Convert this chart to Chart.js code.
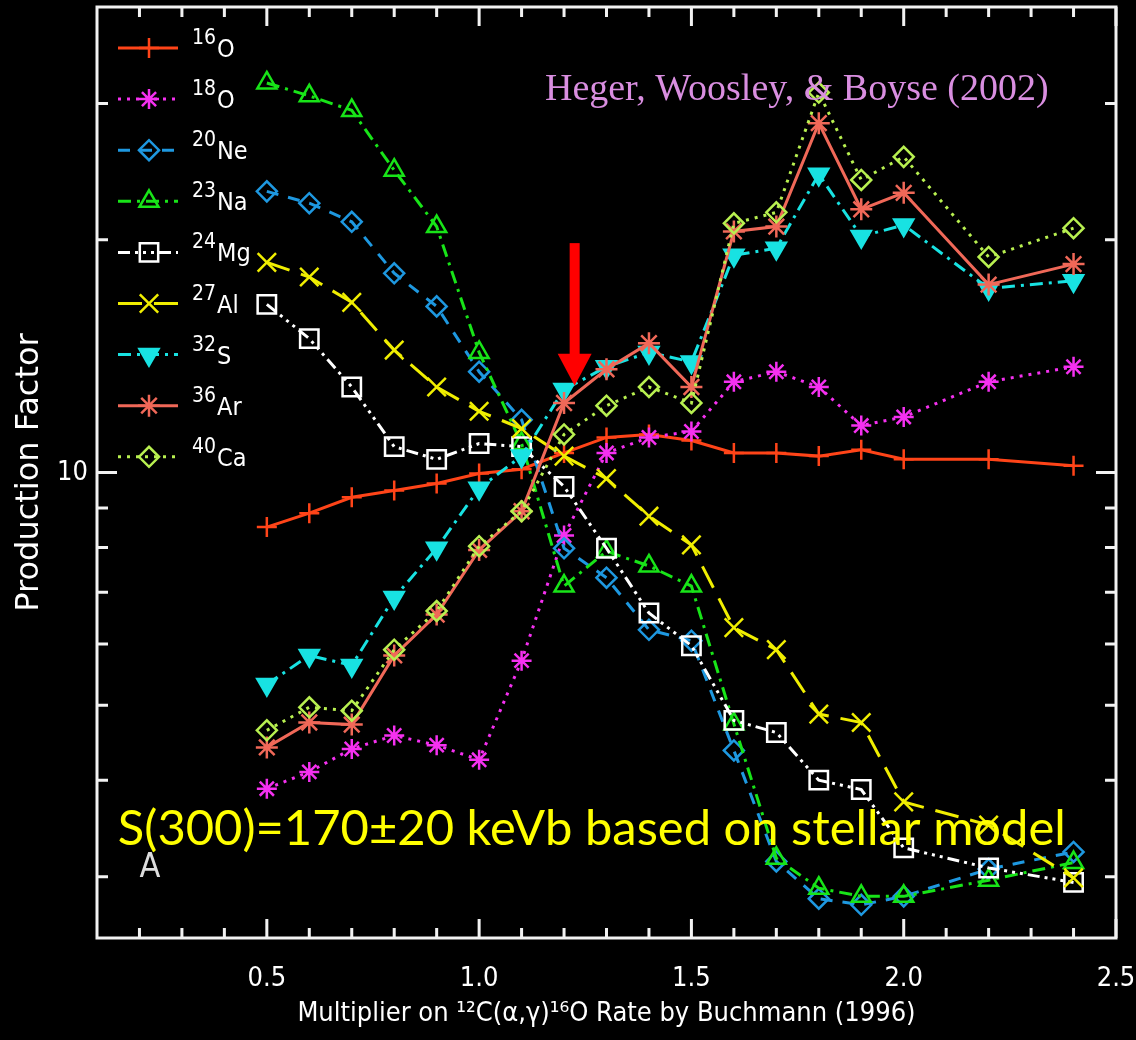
<!DOCTYPE html>
<html>
<head>
<meta charset="utf-8">
<script src="https://cdn.jsdelivr.net/npm/chart.js@4.4.1/dist/chart.umd.min.js"></script>
<style>
  html, body { margin: 0; padding: 0; background: #000; }
  #wrap { width: 1136px; height: 1040px; }
</style>
</head>
<body>
<div id="wrap"><canvas id="pf"></canvas></div>
<script>
// multiplier on the 12C(a,g)16O rate
const multiplier = [0.5, 0.6, 0.7, 0.8, 0.9, 1.0, 1.1, 1.2, 1.3, 1.4, 1.5, 1.6, 1.7, 1.8, 1.9, 2.0, 2.2, 2.4]

// production factors
const o16 = [8.50, 8.86, 9.29, 9.48, 9.68, 9.97, 10.1, 10.6, 11.1, 11.2, 11.0, 10.6, 10.6, 10.5, 10.7, 10.4, 10.4, 10.2]
const o18 = [3.90, 4.10, 4.39, 4.57, 4.44, 4.25, 5.71, 8.29, 10.6, 11.1, 11.3, 13.1, 13.5, 12.9, 11.5, 11.8, 13.1, 13.7]
const ne20 = [23.1, 22.3, 21.1, 18.1, 16.4, 13.5, 11.7, 7.98, 7.31, 6.26, 6.06, 4.37, 3.14, 2.81, 2.76, 2.83, 3.07, 3.23]
const na23 = [31.9, 30.7, 29.4, 24.6, 20.8, 14.3, 10.9, 7.13, 7.91, 7.57, 7.13, 4.73, 3.17, 2.90, 2.83, 2.83, 2.97, 3.13]
const mg24 = [16.5, 14.9, 12.9, 10.8, 10.4, 10.9, 10.8, 9.59, 7.98, 6.58, 5.97, 4.78, 4.61, 4.00, 3.89, 3.27, 3.08, 2.95]
const al27 = [18.7, 17.9, 16.6, 14.4, 12.9, 12.0, 11.4, 10.5, 9.82, 8.78, 8.06, 6.30, 5.90, 4.87, 4.75, 3.75, 3.50, 2.99]
const s32 = [5.32, 5.80, 5.63, 6.89, 7.98, 9.54, 10.5, 12.8, 13.7, 14.3, 13.9, 19.1, 19.5, 24.3, 20.2, 20.9, 17.3, 17.7]
const ar36 = [4.41, 4.75, 4.72, 5.80, 6.55, 7.94, 8.91, 12.3, 13.6, 14.7, 12.9, 20.5, 20.8, 28.3, 21.9, 23.0, 17.5, 18.6]
const ca40 = [4.64, 4.97, 4.92, 5.90, 6.62, 8.03, 8.91, 11.2, 12.2, 12.9, 12.3, 21.0, 21.7, 31.0, 23.9, 25.6, 19.0, 20.7]

const masses = ['16', '18', '20', '23', '24', '27', '32', '36', '40']
const elements = ['O', 'O', 'Ne', 'Na', 'Mg', 'Al', 'S', 'Ar', 'Ca']

const xTickLabels = [0.5, 1.0, 1.5, 2.0, 2.5]
const xMinorTicks = [0.2, 0.3, 0.4, 0.6, 0.7, 0.8, 0.9, 1.1, 1.2, 1.3, 1.4, 1.6, 1.7, 1.8, 1.9, 2.1, 2.2, 2.3, 2.4]
const yTickLabels = [10]
const yMinorTicks = [3, 4, 5, 6, 7, 8, 9, 20, 30]

const citation = 'Heger, Woosley, & Boyse (2002)'
const note = 'S(300)=170\u00b120 keVb based on stellar model'

const narrow = "'Liberation Sans Narrow', 'DejaVu Sans Condensed', 'Liberation Sans', sans-serif"

// line / marker look of each isotope (IDL style)
const styles = [
  { color: '#ff4418', dash: [], point: 'cross', r: 10, solid: false },
  { color: '#f530f0', dash: [3, 6], point: 'star', r: 10, solid: false },
  { color: '#1e98e0', dash: [12, 10], point: 'rectRot', r: 10, solid: false },
  { color: '#18e418', dash: [13, 6, 3, 6], point: 'triangle', r: 11, solid: false },
  { color: '#ffffff', dash: [12, 5, 3, 5, 3, 5, 3, 5], point: 'rect', r: 13, solid: false },
  { color: '#f0ee00', dash: [24, 12], point: 'crossRot', r: 13, solid: false },
  { color: '#18e2e2', dash: [13, 6, 3, 6], point: 'triangle', r: 11, solid: true, rot: 180 },
  { color: '#f06858', dash: [], point: 'star', r: 11, solid: false },
  { color: '#b8f050', dash: [3, 6], point: 'rectRot', r: 10, solid: false }
]

const values = [o16, o18, ne20, na23, mg24, al27, s32, ar36, ca40]

const datasets = values.map((vals, i) => ({
  label: masses[i] + elements[i],
  data: multiplier.map((m, j) => ({ x: m, y: vals[j] })),
  borderColor: styles[i].color,
  borderWidth: 3,
  borderDash: styles[i].dash,
  pointStyle: styles[i].point,
  pointRadius: styles[i].r,
  pointRotation: styles[i].rot || 0,
  pointBorderWidth: 2.5,
  pointBorderColor: styles[i].color,
  pointBackgroundColor: styles[i].solid ? styles[i].color : 'rgba(0,0,0,0)',
  tension: 0,
  fill: false,
  order: values.length - i
}))

const idlFrame = {
  id: 'idlFrame',
  afterDatasetsDraw(chart) {
    const { ctx, chartArea: a, scales: { x, y } } = chart
    ctx.save()

    // annotations
    ctx.fillStyle = '#d98ee0'
    ctx.font = "38px 'Liberation Serif', 'DejaVu Serif', serif"
    ctx.textBaseline = 'alphabetic'
    ctx.fillText(citation, x.getPixelForValue(1.155), y.getPixelForValue(30.3))

    ctx.fillStyle = '#ffff00'
    ctx.font = "49px Lato, 'Open Sans', sans-serif"
    ctx.fillText(note, x.getPixelForValue(0.149), y.getPixelForValue(3.3), 948)

    ctx.fillStyle = '#dddddd'
    ctx.font = "34px 'DejaVu Sans ExtraLight', 'DejaVu Sans Condensed', sans-serif"
    ctx.fillText('A', x.getPixelForValue(0.2), y.getPixelForValue(3.0))

    // red arrow
    const ax = x.getPixelForValue(1.225)
    const top = y.getPixelForValue(19.8)
    const tip = y.getPixelForValue(12.95)
    ctx.fillStyle = '#ff0000'
    ctx.fillRect(ax - 5, top, 10, tip - top - 30)
    ctx.beginPath()
    ctx.moveTo(ax - 17, tip - 32)
    ctx.lineTo(ax + 17, tip - 32)
    ctx.lineTo(ax, tip)
    ctx.closePath()
    ctx.fill()

    // legend
    chart.data.datasets.forEach((ds, i) => {
      const cy = a.top + 41 + i * 51.1
      ctx.strokeStyle = ds.borderColor
      ctx.lineWidth = 3
      ctx.setLineDash(ds.borderDash)
      ctx.beginPath()
      ctx.moveTo(a.left + 21, cy)
      ctx.lineTo(a.left + 81, cy)
      ctx.stroke()
      ctx.setLineDash([])
      ctx.lineWidth = ds.pointBorderWidth
      ctx.fillStyle = ds.pointBackgroundColor
      Chart.helpers.drawPoint(ctx, {
        pointStyle: ds.pointStyle, rotation: ds.pointRotation,
        radius: ds.pointRadius, borderWidth: ds.pointBorderWidth
      }, a.left + 52, cy)

      ctx.fillStyle = '#ffffff'
      ctx.font = '21px ' + narrow
      ctx.fillText(masses[i], a.left + 95, cy - 4)
      const w = ctx.measureText(masses[i]).width
      ctx.font = '25px ' + narrow
      ctx.fillText(elements[i], a.left + 96 + w, cy + 9)
    })

    // frame with inward ticks on all sides
    ctx.strokeStyle = '#f2f2f2'
    ctx.lineWidth = 3
    ctx.strokeRect(a.left, a.top, a.right - a.left, a.bottom - a.top)
    const tickX = (v, len) => {
      const px = x.getPixelForValue(v)
      ctx.beginPath()
      ctx.moveTo(px, a.bottom); ctx.lineTo(px, a.bottom - len)
      ctx.moveTo(px, a.top); ctx.lineTo(px, a.top + len)
      ctx.stroke()
    }
    const tickY = (v, len) => {
      const py = y.getPixelForValue(v)
      ctx.beginPath()
      ctx.moveTo(a.left, py); ctx.lineTo(a.left + len, py)
      ctx.moveTo(a.right, py); ctx.lineTo(a.right - len, py)
      ctx.stroke()
    }
    xTickLabels.forEach(v => tickX(v, 19))
    xMinorTicks.forEach(v => tickX(v, 10))
    yTickLabels.forEach(v => tickY(v, 20))
    yMinorTicks.forEach(v => tickY(v, 11))
    ctx.restore()
  }
}

new Chart(document.getElementById('pf'), {
  type: 'line',
  data: { datasets },
  options: {
    responsive: true,
    maintainAspectRatio: false,
    animation: false,
    devicePixelRatio: 1,
    layout: { autoPadding: false, padding: { top: 7, right: 20, left: 0, bottom: 0 } },
    plugins: { legend: { display: false }, tooltip: { enabled: false } },
    scales: {
      x: {
        type: 'linear',
        min: 0.1,
        max: 2.5,
        grid: { display: false },
        border: { display: false },
        afterBuildTicks: s => { s.ticks = xTickLabels.map(v => ({ value: v })) },
        afterFit: s => { s.height = 102; s.paddingLeft = 0; s.paddingRight = 0 },
        ticks: {
          color: '#ffffff',
          padding: 17,
          maxRotation: 0,
          font: { family: narrow, size: 27 },
          callback: v => v.toFixed(1)
        },
        title: {
          display: true,
          text: 'Multiplier on \u00b9\u00b2C(\u03b1,\u03b3)\u00b9\u2076O Rate by Buchmann (1996)',
          color: '#ffffff',
          font: { family: narrow, size: 27 },
          padding: { top: 0, bottom: 10 }
        }
      },
      y: {
        type: 'logarithmic',
        min: 2.5,
        max: 40,
        grid: { display: false },
        border: { display: false },
        afterBuildTicks: s => { s.ticks = yTickLabels.map(v => ({ value: v })) },
        afterFit: s => { s.width = 97; s.paddingTop = 0; s.paddingBottom = 0 },
        ticks: {
          color: '#ffffff',
          padding: 1,
          font: { family: narrow, size: 27, lineHeight: 0.4 },
          callback: v => String(v)
        },
        title: {
          display: true,
          text: 'Production Factor',
          color: '#ffffff',
          font: { family: "'DejaVu Sans', sans-serif", size: 32 },
          padding: { top: 10, bottom: 0 }
        }
      }
    }
  },
  plugins: [idlFrame]
})
</script>
</body>
</html>
